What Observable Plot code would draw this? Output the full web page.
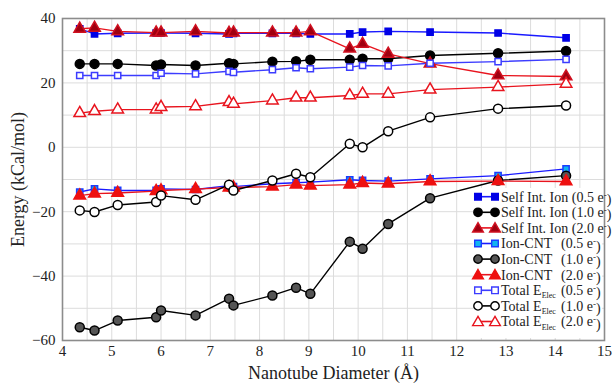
<!DOCTYPE html>
<html>
<head>
<meta charset="utf-8">
<script src="https://cdn.jsdelivr.net/npm/d3@7"></script>
<script src="https://cdn.jsdelivr.net/npm/@observablehq/plot@0.6"></script>
<style>
  html, body { margin: 0; padding: 0; background: #fff; }
  #wrap { position: relative; width: 615px; height: 383px; }
  #legend { position: absolute; left: 0; top: 0; }
</style>
</head>
<body>
<div id="wrap"></div>
<script>
// Nanotube diameters (Å)
const diam = [4.35, 4.65, 5.12, 5.9, 6.0, 6.7, 7.38, 7.47, 8.26, 8.74, 9.03, 9.83, 10.09, 10.61, 11.46, 12.84, 14.22];

// Energies (kCal/mol)
const selfInt05 = [36.8, 35.2, 35.4, 35.5, 35.5, 35.4, 35.2, 35.4, 35.4, 35.4, 35.2, 35.2, 35.8, 36.0, 35.8, 35.5, 34.0];
const selfInt10 = [25.9, 25.9, 25.9, 25.4, 25.7, 25.4, 26.1, 25.9, 26.6, 26.7, 27.2, 27.2, 27.5, 27.5, 28.5, 29.2, 29.9];
const selfInt20 = [36.8, 37.1, 36.0, 35.6, 35.6, 36.0, 35.5, 35.6, 35.6, 35.6, 36.0, 30.6, 32.1, 29.0, 26.0, 22.3, 22.0];
const ionCnt05 = [-13.9, -12.9, -13.4, -13.4, -12.9, -13.1, -11.9, -12.2, -11.3, -11.0, -10.8, -10.1, -10.3, -10.5, -9.8, -8.8, -6.7];
const ionCnt10 = [-55.9, -56.9, -53.8, -52.8, -50.7, -52.2, -47.0, -49.1, -46.0, -43.6, -45.5, -29.3, -31.5, -23.8, -15.8, -10.3, -8.8];
const ionCnt20 = [-15.0, -14.4, -14.2, -13.6, -13.4, -13.0, -12.5, -12.5, -12.2, -11.6, -11.9, -11.6, -11.1, -11.3, -10.6, -10.5, -10.6];
const total05 = [22.3, 22.3, 22.3, 22.3, 23.0, 22.8, 23.6, 23.3, 24.1, 24.7, 24.4, 24.9, 25.4, 25.3, 26.1, 26.6, 27.3];
const total10 = [-19.6, -20.1, -17.9, -17.0, -15.0, -16.3, -11.6, -13.4, -10.3, -8.2, -9.3, 1.1, 0.0, 5.0, 9.3, 12.0, 13.0];
const total20 = [10.6, 11.2, 11.7, 11.7, 12.5, 12.7, 14.0, 13.5, 14.5, 15.4, 15.4, 16.1, 16.6, 16.6, 17.9, 18.7, 19.7];

const xTicks = [4, 5, 6, 7, 8, 9, 10, 11, 12, 13, 14, 15];
const yTicks = [-60, -40, -20, 0, 20, 40];

const FONT = "Liberation Serif";

const series = [
  {name: "Self Int. Ion", q: "0.5", v: selfInt05, line: "#1a1aff", sym: "square", fill: "#0000e6", stroke: "#0000e6", r: 3.5},
  {name: "Self Int. Ion", q: "1.0", v: selfInt10, line: "#000000", sym: "circle", fill: "#000000", stroke: "#000000", r: 4.5},
  {name: "Self Int. Ion", q: "2.0", v: selfInt20, line: "#e8141e", sym: "triangle", fill: "#a00010", stroke: "#d01020", r: 4.3},
  {name: "Ion-CNT", q: "0.5", v: ionCnt05, line: "#1a1aff", sym: "square", fill: "#10b4f0", stroke: "#1a3cff", r: 3.5},
  {name: "Ion-CNT", q: "1.0", v: ionCnt10, line: "#000000", sym: "circle", fill: "#555555", stroke: "#000000", r: 4.5},
  {name: "Ion-CNT", q: "2.0", v: ionCnt20, line: "#e8141e", sym: "triangle", fill: "#ee1010", stroke: "#ee1010", r: 4.3},
  {name: "Total E", q: "0.5", v: total05, line: "#3c3cff", sym: "square", fill: "#ffffff", stroke: "#3c3cff", r: 3.5},
  {name: "Total E", q: "1.0", v: total10, line: "#000000", sym: "circle", fill: "#ffffff", stroke: "#000000", r: 4.5},
  {name: "Total E", q: "2.0", v: total20, line: "#e8141e", sym: "triangle", fill: "#ffffff", stroke: "#e8141e", r: 4.3}
];

const marks = [
  Plot.gridX(d3.range(4, 15.01, 0.5), {stroke: "#dcdcdc", strokeOpacity: 1, strokeWidth: 1}),
  Plot.gridY(d3.range(-60, 40.01, 10), {stroke: "#dcdcdc", strokeOpacity: 1, strokeWidth: 1}),
  Plot.axisX(xTicks, {tickSize: 0, tickPadding: 5, fontSize: 15, fontFamily: FONT, label: "Nanotube Diameter (Å)", labelAnchor: "center", labelOffset: 38, labelArrow: "none"}),
  Plot.axisY(yTicks, {tickSize: 0, tickPadding: 7, fontSize: 15, fontFamily: FONT, label: "Energy (kCal/mol)", labelAnchor: "center", labelOffset: 51, labelArrow: "none"})
];
for (const s of series) {
  const data = diam.map((d, i) => ({x: d, y: s.v[i]}));
  marks.push(Plot.line(data, {x: "x", y: "y", stroke: s.line, strokeWidth: 1.4}));
}
for (const s of series) {
  const data = diam.map((d, i) => ({x: d, y: s.v[i]}));
  marks.push(Plot.dot(data, {x: "x", y: "y", symbol: s.sym, r: s.r, fill: s.fill, stroke: s.stroke, strokeWidth: 1.5}));
}
marks.push(Plot.frame({stroke: "#8c8c8c", strokeWidth: 1.6}));

const chart = Plot.plot({
  width: 615,
  height: 383,
  marginLeft: 62,
  marginRight: 11,
  marginTop: 18,
  marginBottom: 43,
  x: {domain: [4, 15]},
  y: {domain: [-60, 40]},
  style: {fontFamily: FONT, fontSize: "15px", color: "#222", background: "#fff"},
  marks
});
chart.setAttribute("font-family", FONT);
chart.querySelectorAll("g[aria-label='x-axis label'] text, g[aria-label='y-axis label'] text").forEach(t => {
  t.setAttribute("font-size", "18");
});
chart.querySelectorAll("g").forEach(g => { if (g.hasAttribute("font-family")) g.setAttribute("font-family", FONT); });
chart.querySelectorAll("text").forEach(t => { t.setAttribute("font-family", FONT); });
const wrap = document.getElementById("wrap");
wrap.appendChild(chart);

// Legend overlay
const lg = d3.select(wrap).append("svg").attr("id", "legend")
  .attr("width", 615).attr("height", 383)
  .attr("font-family", FONT)
  .attr("font-size", 14);
lg.append("rect").attr("x", 473).attr("y", 188).attr("width", 129).attr("height", 150).attr("fill", "#fff");
const symPath = {square: d3.symbolSquare, circle: d3.symbolCircle, triangle: d3.symbolTriangle};
const x0 = 478, x1 = 495, tx = 501, y0 = 196.7, dy = 15.6;
series.forEach((s, i) => {
  const y = y0 + i * dy;
  const g = lg.append("g");
  g.append("line").attr("x1", x0).attr("x2", x1).attr("y1", y).attr("y2", y).attr("stroke", s.line).attr("stroke-width", 1.6);
  const area = s.sym === "circle" ? Math.PI * 4.2 * 4.2 : (s.sym === "square" ? 44 : 50);
  const p = d3.symbol(symPath[s.sym], area)();
  [x0, x1].forEach(cx => g.append("path").attr("d", p).attr("transform", `translate(${cx},${y + (s.sym === "triangle" ? 1 : 0)})`)
    .attr("fill", s.fill).attr("stroke", s.stroke).attr("stroke-width", 1.4));
  const t = g.append("text").attr("x", tx).attr("y", y).attr("dy", "0.35em").attr("fill", "#222").attr("font-family", FONT);
  if (s.name === "Self Int. Ion") {
    t.text(`Self Int. Ion (${s.q} e`);
    t.append("tspan").attr("dy", "-0.45em").attr("font-size", "9px").text("-");
    t.append("tspan").attr("dy", "0.45em").text(")");
  } else {
    if (s.name === "Total E") {
      t.text("Total E");
      t.append("tspan").attr("dy", "0.4em").attr("font-size", "8px").text("Elec");
    } else {
      t.text("Ion-CNT");
    }
    const t2 = g.append("text").attr("x", 561).attr("y", y).attr("dy", "0.35em").attr("fill", "#222").attr("font-family", FONT);
    t2.text(`(${s.q} e`);
    t2.append("tspan").attr("dy", "-0.45em").attr("font-size", "9px").text("-");
    t2.append("tspan").attr("dy", "0.45em").text(")");
  }
});
</script>
</body>
</html>
